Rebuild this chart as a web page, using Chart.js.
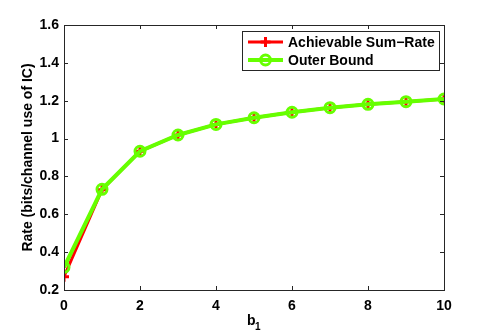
<!DOCTYPE html>
<html lang="en">
<head>
    <meta charset="UTF-8">
    <title>Rate vs b1</title>
    <script src="https://cdn.jsdelivr.net/npm/chart.js"></script>
    <style>
        html, body { margin: 0; padding: 0; background: #fff; }
        .chart-container { position: relative; width: 491px; height: 334px; }
    </style>
</head>
<body>
    <div class="chart-container">
        <canvas id="rateChart"></canvas>
    </div>
    <script>
        // values
        const bValues = [0, 1, 2, 3, 4, 5, 6, 7, 8, 9, 10];
        const achievableRate = [0.27, 0.73, 0.933, 1.019, 1.075, 1.110, 1.139, 1.163, 1.181, 1.195, 1.209];
        const outerBound = [0.32, 0.732, 0.933, 1.019, 1.075, 1.110, 1.139, 1.163, 1.181, 1.195, 1.209];
        const seriesNames = ['Achievable Sum\u2212Rate', 'Outer Bound'];
        const xTicks = [0, 2, 4, 6, 8, 10];
        const yTicks = [0.2, 0.4, 0.6, 0.8, 1, 1.2, 1.4, 1.6];

        const FAMILY = '"Liberation Sans", Arial, sans-serif';
        const FONT = 'bold 14px ' + FAMILY;
        const RED = '#ff0000';
        const GREEN = '#66ff00';

        // matlab style box, inward ticks, x label with subscript, and legend
        const matlabFrame = {
            id: 'matlabFrame',
            afterDatasetsDraw(chart) {
                const ctx = chart.ctx;
                const a = chart.chartArea;
                const xs = chart.scales.x, ys = chart.scales.y;
                ctx.save();
                ctx.strokeStyle = '#262626';
                ctx.lineWidth = 1;
                ctx.strokeRect(a.left + 0.5, a.top + 0.5, a.right - a.left, a.bottom - a.top);
                ctx.beginPath();
                xTicks.forEach(v => {
                    const px = Math.round(xs.getPixelForValue(v)) + 0.5;
                    ctx.moveTo(px, a.bottom); ctx.lineTo(px, a.bottom - 4);
                    ctx.moveTo(px, a.top); ctx.lineTo(px, a.top + 4);
                });
                yTicks.forEach(v => {
                    const py = Math.round(ys.getPixelForValue(v)) + 0.5;
                    ctx.moveTo(a.left, py); ctx.lineTo(a.left + 4, py);
                    ctx.moveTo(a.right, py); ctx.lineTo(a.right - 4, py);
                });
                ctx.stroke();

                // x axis label: b with subscript 1
                const cx = (a.left + a.right) / 2;
                ctx.fillStyle = '#000';
                ctx.textBaseline = 'alphabetic';
                ctx.font = FONT;
                ctx.fillText('b', cx - 7, 325);
                ctx.font = 'bold 10px ' + FAMILY;
                ctx.fillText('1', cx + 1, 330);

                // legend box
                const lx = 242, ly = 31, lw = 197, lh = 39;
                ctx.fillStyle = '#fff';
                ctx.fillRect(lx, ly, lw, lh);
                ctx.strokeStyle = '#262626';
                ctx.lineWidth = 1;
                ctx.strokeRect(lx + 0.5, ly + 0.5, lw, lh);
                const rows = [ly + 11, ly + 29];
                ctx.font = FONT;
                ctx.textBaseline = 'middle';
                chart.data.datasets.forEach((ds, i) => {
                    const y = rows[i];
                    ctx.strokeStyle = ds.borderColor;
                    ctx.lineWidth = ds.borderWidth;
                    ctx.beginPath();
                    ctx.moveTo(248, y); ctx.lineTo(283, y);
                    ctx.stroke();
                    ctx.lineWidth = ds.pointBorderWidth;
                    ctx.beginPath();
                    if (ds.pointStyle === 'cross') {
                        ctx.moveTo(265.5 - ds.pointRadius, y); ctx.lineTo(265.5 + ds.pointRadius, y);
                        ctx.moveTo(265.5, y - ds.pointRadius); ctx.lineTo(265.5, y + ds.pointRadius);
                    } else {
                        ctx.arc(265.5, y, ds.pointRadius, 0, Math.PI * 2);
                    }
                    ctx.stroke();
                    ctx.fillStyle = '#000';
                    ctx.fillText(ds.label, 288, y + 1);
                });
                ctx.restore();
            }
        };

        new Chart(document.getElementById('rateChart'), {
            type: 'line',
            data: {
                labels: bValues,
                datasets: [
                    {
                        label: seriesNames[0],
                        data: bValues.map((b, i) => ({ x: b, y: achievableRate[i] })),
                        borderColor: RED,
                        backgroundColor: RED,
                        borderWidth: 3,
                        pointStyle: 'cross',
                        pointRadius: 5,
                        pointBorderWidth: 3,
                        pointBackgroundColor: RED,
                        order: 2
                    },
                    {
                        label: seriesNames[1],
                        data: bValues.map((b, i) => ({ x: b, y: outerBound[i] })),
                        borderColor: GREEN,
                        backgroundColor: 'transparent',
                        borderWidth: 4,
                        pointStyle: 'circle',
                        pointRadius: 5,
                        pointBorderWidth: 3,
                        pointBackgroundColor: 'transparent',
                        order: 1
                    }
                ]
            },
            options: {
                responsive: true,
                maintainAspectRatio: false,
                animation: false,
                layout: { padding: { top: 25, right: 47 } },
                plugins: {
                    legend: { display: false },
                    tooltip: { enabled: false }
                },
                scales: {
                    x: {
                        type: 'linear',
                        min: 0, max: 10,
                        afterFit: s => { s.height = 44; },
                        afterBuildTicks: s => { s.ticks = xTicks.map(v => ({ value: v })); },
                        grid: { display: false, drawTicks: false },
                        border: { display: false },
                        ticks: { color: '#000', font: { size: 14, weight: 'bold', family: FAMILY }, padding: 8, maxRotation: 0 }
                    },
                    y: {
                        min: 0.2, max: 1.6,
                        afterFit: s => { s.width = 64; },
                        afterBuildTicks: s => { s.ticks = yTicks.map(v => ({ value: v })); },
                        grid: { display: false, drawTicks: false },
                        border: { display: false },
                        ticks: {
                            color: '#000',
                            font: { size: 14, weight: 'bold', family: FAMILY },
                            padding: 5,
                            callback: v => String(parseFloat(v.toFixed(1)))
                        },
                        title: {
                            display: true,
                            text: 'Rate (bits/channel use of IC)',
                            color: '#000',
                            font: { size: 14, weight: 'bold', family: FAMILY },
                            padding: { top: 20 }
                        }
                    }
                }
            },
            plugins: [matlabFrame]
        });
    </script>
</body>
</html>
